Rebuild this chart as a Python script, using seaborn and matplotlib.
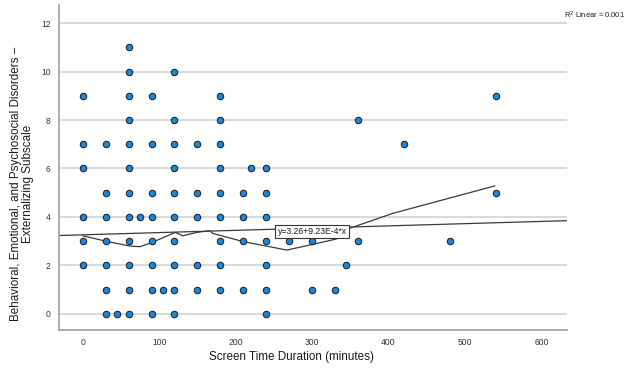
import matplotlib
matplotlib.use("Agg")
import matplotlib.pyplot as plt
import seaborn as sns
import numpy as np
import pandas as pd

# ---- data ----
screen_time = [
    60,
    60, 120,
    0, 60, 90, 180, 540,
    60, 120, 180, 360,
    0, 30, 60, 90, 120, 150, 180, 420,
    0, 60, 120, 180, 220, 240,
    30, 60, 90, 120, 150, 180, 210, 240, 540,
    0, 30, 60, 75, 90, 120, 150, 180, 210, 240,
    0, 30, 60, 90, 120, 180, 210, 240, 270, 300, 360, 480,
    0, 30, 60, 90, 120, 150, 180, 240, 345,
    30, 60, 90, 105, 120, 150, 180, 210, 240, 300, 330,
    30, 45, 60, 90, 120, 240,
]
externalizing = (
    [11] * 1 + [10] * 2 + [9] * 5 + [8] * 4 + [7] * 8 + [6] * 6 +
    [5] * 9 + [4] * 10 + [3] * 12 + [2] * 9 + [1] * 11 + [0] * 6
)

loess_x = [0, 30, 61, 75, 91, 121, 131, 149, 166, 170, 210, 267, 297, 332, 349, 406, 539]
loess_y = [3.22, 3.00, 2.80, 2.77, 2.95, 3.36, 3.22, 3.36, 3.43, 3.32, 2.98, 2.63, 2.84, 3.09, 3.53, 4.15, 5.28]

intercept = 3.26
slope = 9.23e-4
r2_linear = 0.001

x_ticks = [0, 100, 200, 300, 400, 500, 600]
y_ticks = [0, 2, 4, 6, 8, 10, 12]
x_limits = (-31, 633)
y_limits = (-0.67, 12.75)

# ---- plotting ----
sns.set_theme(style="white")
plt.rcParams["font.family"] = ["Liberation Sans", "DejaVu Sans"]

fig = plt.figure(figsize=(6.3, 3.69), dpi=100)
ax = fig.add_axes([59 / 630, 1 - 330 / 369, (566.7 - 59) / 630, (330 - 5) / 369])

df = pd.DataFrame({"x": screen_time, "y": externalizing})
for yv in y_ticks:
    ax.axhline(yv, color="#d9d9d9", lw=1.4, zorder=0)

fit_x = np.array(x_limits, dtype=float)
fit_df = pd.DataFrame({"x": fit_x, "y": intercept + slope * fit_x})
sns.lineplot(data=fit_df, x="x", y="y", ax=ax, color="#3a3a3a", lw=0.9, zorder=2)

lo_df = pd.DataFrame({"x": loess_x, "y": loess_y})
sns.lineplot(data=lo_df, x="x", y="y", ax=ax, sort=False, estimator=None,
             color="#3a3a3a", lw=0.9, zorder=2)

sns.scatterplot(data=df, x="x", y="y", ax=ax, s=22, color="#1c87d8",
                edgecolor="#1a1a1a", linewidth=0.7, zorder=3)

ax.set_xlim(*x_limits)
ax.set_ylim(*y_limits)
ax.set_xticks(x_ticks)
ax.set_yticks(y_ticks)
ax.tick_params(axis="both", length=0, labelsize=6.2, labelcolor="#333333", pad=6)
for side in ["top", "right"]:
    ax.spines[side].set_visible(False)
for side in ["left", "bottom"]:
    ax.spines[side].set_color("#a6a6a6")
    ax.spines[side].set_linewidth(1.3)

ax.set_xlabel("Screen Time Duration (minutes)", fontsize=8.4, color="#1a1a1a")
ax.xaxis.set_label_coords(0.457, -0.066)
ax.set_ylabel("Behavioral, Emotional, and Psychosocial Disorders –\nExternalizing Subscale",
              fontsize=8.4, color="#1a1a1a", linespacing=1.0)
ax.yaxis.set_label_coords(-0.05, 0.449)

ax.text(300, 3.40, f"y={intercept}+9.23E-4*x",
        ha="center", va="center", fontsize=6.2, color="#1a1a1a", zorder=4,
        bbox=dict(boxstyle="square,pad=0.25", fc="white", ec="#333333", lw=0.8))

fig.text(564 / 630, 1 - 15 / 369, "R$^2$ Linear = " + f"{r2_linear}",
         ha="left", va="center", fontsize=5.4, color="#1a1a1a")

fig.savefig("out.png", dpi=100)
